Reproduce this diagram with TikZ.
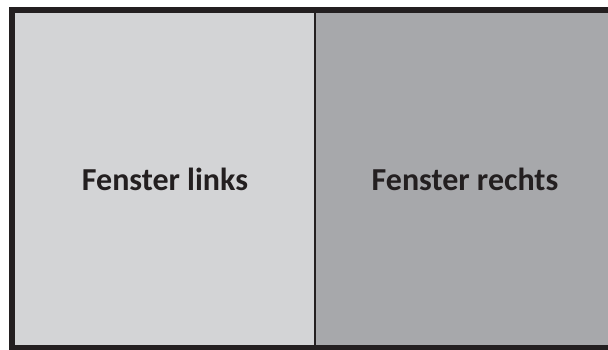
\documentclass[tikz,border=0pt]{standalone}
\usepackage{fontspec}
\setmainfont{Carlito}
\definecolor{fensterHell}{HTML}{D3D4D6}
\definecolor{fensterDunkel}{HTML}{A7A8AB}
\definecolor{fensterRand}{HTML}{231F20}
\begin{document}
\begin{tikzpicture}[
                x=1pt,y=-1pt,
                fensterPanel/.style={draw=none,inner sep=0pt,outer sep=0pt,
                                     minimum height=332pt,anchor=north west,
                                     font=\fontsize{32}{36}\selectfont\bfseries,
                                     text=fensterRand},
                fensterTeiler/.style={draw=fensterRand,line width=2pt},
                fensterRahmen/.style={draw=fensterRand,line width=6pt}]
                \useasboundingbox (0,0) rectangle (608,349);
                \clip (0,0) rectangle (608,349);
                \node[fensterPanel,fill=fensterHell,minimum width=300pt]
                     (links) at (15,13) {Fenster links};
                \node[fensterPanel,fill=fensterDunkel,minimum width=300pt]
                     (rechts) at (315,13) {Fenster rechts};
                \draw[fensterTeiler] (links.north east) -- (links.south east);
                \draw[fensterRahmen] (links.north west) ++(-3,-3)
                     rectangle ([shift={(3,3)}]rechts.south east);
            \end{tikzpicture}
\end{document}
